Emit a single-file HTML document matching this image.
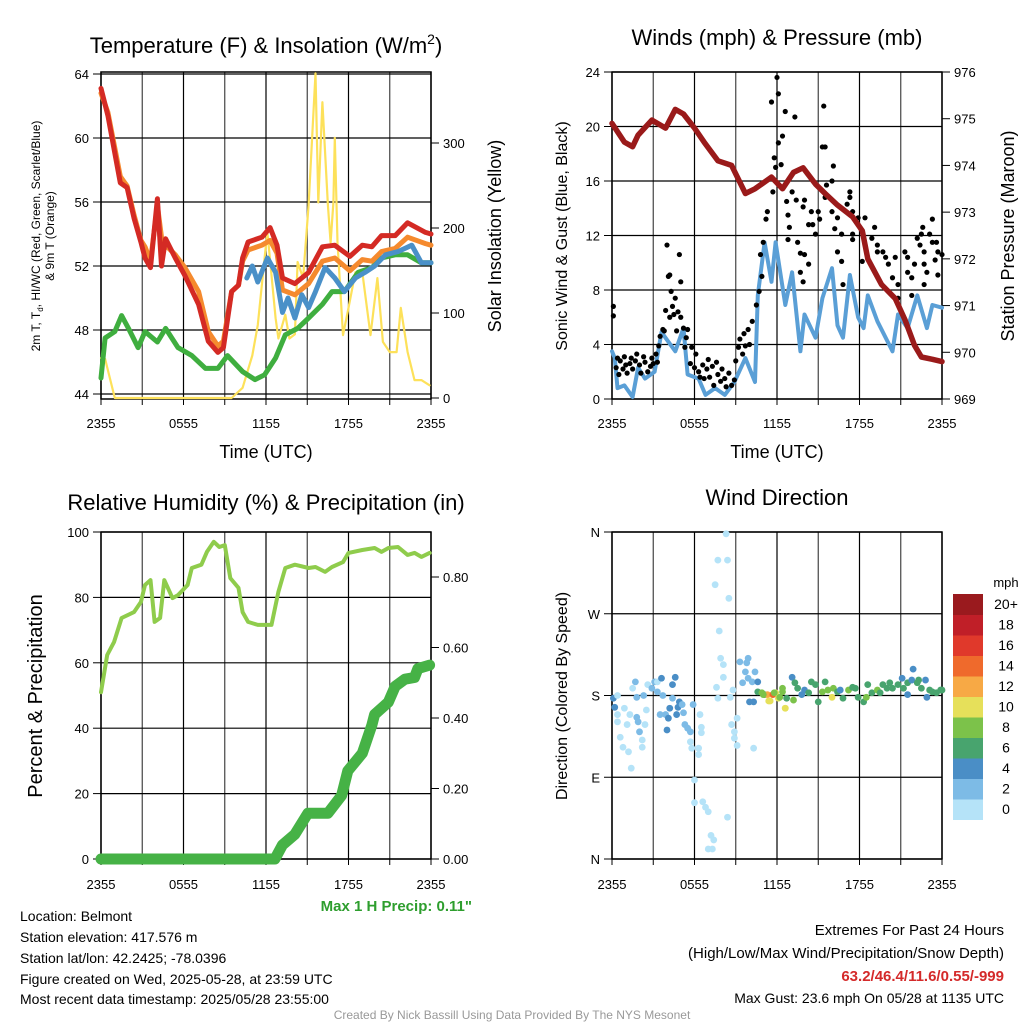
<!DOCTYPE html>
<html><head><meta charset="utf-8"><style>
body{margin:0;background:#fff}
svg{display:block;font-family:"Liberation Sans",Arial,sans-serif}
</style></head><body>
<svg id="fig" width="1024" height="1024" viewBox="0 0 1024 1024">
<rect x="0" y="0" width="1024" height="1024" fill="#fff"/>
<g id="p1"></g>
<g id="p2"></g>
<g id="p3"></g>
<g id="p4"></g>

<text x="266" y="53" font-size="22" text-anchor="middle">Temperature (F) &amp; Insolation (W/m<tspan font-size="14" dy="-9">2</tspan><tspan dy="9">)</tspan></text>
<text x="777" y="45" font-size="22" text-anchor="middle">Winds (mph) &amp; Pressure (mb)</text>
<text x="266" y="510" font-size="22" text-anchor="middle">Relative Humidity (%) &amp; Precipitation (in)</text>
<text x="777" y="505" font-size="22" text-anchor="middle">Wind Direction</text>

<text x="266" y="458" font-size="18" text-anchor="middle">Time (UTC)</text>
<text x="777" y="458" font-size="18" text-anchor="middle">Time (UTC)</text>

<text transform="translate(40,236) rotate(-90)" font-size="12" text-anchor="middle">2m T, T<tspan font-size="8" dy="3">d</tspan><tspan dy="-3">, HI/WC (Red, Green, Scarlet/Blue)</tspan></text>
<text transform="translate(54,236) rotate(-90)" font-size="12" text-anchor="middle">&amp; 9m T (Orange)</text>
<text transform="translate(501,236) rotate(-90)" font-size="18" text-anchor="middle">Solar Insolation (Yellow)</text>
<text transform="translate(567,236) rotate(-90)" font-size="16" text-anchor="middle">Sonic Wind &amp; Gust (Blue, Black)</text>
<text transform="translate(1014,236) rotate(-90)" font-size="18" text-anchor="middle">Station Pressure (Maroon)</text>
<text transform="translate(42,696) rotate(-90)" font-size="20" text-anchor="middle">Percent &amp; Precipitation</text>
<text transform="translate(567,696) rotate(-90)" font-size="16" text-anchor="middle">Direction (Colored By Speed)</text>

<text x="472" y="911" font-size="15" font-weight="bold" fill="#2e9e2e" text-anchor="end">Max 1 H Precip: 0.11"</text>

<g font-size="14">
<text x="20" y="921">Location: Belmont</text>
<text x="20" y="942">Station elevation: 417.576 m</text>
<text x="20" y="963">Station lat/lon: 42.2425; -78.0396</text>
<text x="20" y="984">Figure created on Wed, 2025-05-28, at 23:59 UTC</text>
<text x="20" y="1004">Most recent data timestamp: 2025/05/28 23:55:00</text>
</g>
<g font-size="15" text-anchor="end">
<text x="1004" y="935">Extremes For Past 24 Hours</text>
<text x="1004" y="958">(High/Low/Max Wind/Precipitation/Snow Depth)</text>
<text x="1004" y="981" fill="#d42a2a" font-weight="bold">63.2/46.4/11.6/0.55/-999</text>
<text x="1004" y="1003" font-size="14">Max Gust: 23.6 mph On 05/28 at 1135 UTC</text>
</g>
<text x="512" y="1019" font-size="12" fill="#999" text-anchor="middle">Created By Nick Bassill Using Data Provided By The NYS Mesonet</text>
</svg>
<script>
// ---------- DATA ----------
const timeTickLabels = ["2355","0555","1155","1755","2355"];
const tempTicks = [44,48,52,56,60,64];
const solarTicks = [0,100,200,300];
const windTicks = [0,4,8,12,16,20,24];
const pressTicks = [969,970,971,972,973,974,975,976];
const rhTicks = [0,20,40,60,80,100];
const precipTicks = [0,0.2,0.4,0.6,0.8];
const precipTickLabels = ["0.00","0.20","0.40","0.60","0.80"];
const dirTicks = [0,90,180,270,360];
const dirTickLabels = ["N","E","S","W","N"];
const speedBins = ["0","2","4","6","8","10","12","14","16","18","20+"];
const speedColors = ["#b5e3f8","#7dbbe6","#4a8ec6","#48a46e","#7cc24a","#e6e05a","#f7a945","#ef6a2c","#e0392b","#c01f28","#9a1a1e"];

const redT = [0,0.5,1.4,1.9,2.4,2.9,3.2,3.6,4.1,4.4,4.7,5.4,6.1,7.1,7.8,8.5,8.9,9.5,10.0,10.3,10.7,11.7,12.3,12.8,13.2,14.1,15.1,16.1,17.0,18.1,19.0,19.7,20.4,21.4,22.3,23.6,24];
const redV = [63.1,61.4,57.2,56.9,55.0,53.5,52.5,51.9,56.2,52.0,53.7,52.5,51.4,49.6,47.3,46.6,46.9,50.4,50.8,52.5,53.5,53.8,54.4,53.3,51.25,50.9,51.6,53.2,53.3,52.6,53.3,53.2,53.9,53.9,54.7,54.1,54.0];
const orangeV = [62.8,61.6,57.6,57.0,55.2,53.6,53.2,52.3,55.8,53.8,53.3,52.7,51.9,50.4,47.9,47.0,47.3,50.4,50.8,52.3,53.0,53.3,53.6,52.8,50.5,50.2,50.9,52.3,52.5,51.7,52.4,52.3,52.9,53.1,53.8,53.4,53.3];
const blueT = [10.6,11.0,11.4,12.1,12.7,13.2,13.6,14.1,14.6,15.1,15.6,16.3,17.0,17.7,18.5,19.2,19.9,20.7,21.6,22.6,23.3,24];
const blueV = [51.25,52.0,51.0,52.5,51.6,49.1,50.0,48.75,50.2,49.4,50.4,51.9,51.25,50.4,51.25,51.6,52.0,52.7,52.9,53.3,52.2,52.2];
const dewT = [0,0.3,1.0,1.5,2.0,2.7,3.2,4.1,4.7,5.6,6.6,7.6,8.5,9.2,10.3,11.2,11.9,12.7,13.4,14.3,15.1,16.1,16.8,17.7,18.7,19.7,20.4,21.4,22.3,23.3,24];
const dewV = [45.0,47.5,47.9,48.9,48.1,46.9,47.9,47.25,48.1,46.9,46.4,45.6,45.6,46.4,45.4,44.9,45.2,46.25,47.7,48.1,48.75,49.6,50.4,50.4,51.6,51.9,52.5,52.7,52.7,52.2,52.2];
const solarT = [0,0.3,1.0,9.5,10.3,11.0,11.4,11.9,12.1,12.7,12.9,13.4,13.7,14.1,14.3,14.7,15.1,15.6,15.8,16.1,16.5,16.7,16.9,17.0,17.2,17.6,18.0,18.5,19.0,19.6,20.1,20.5,21.0,21.5,21.8,22.3,22.8,23.3,23.9];
const solarV = [47,46,0,0,12,50,86,165,195,94,70,98,70,75,160,141,227,382,230,348,227,183,230,306,183,74,106,148,148,74,141,66,54,54,106,54,21,21,15];

const presT = [0,0.9,1.5,1.9,2.9,3.9,4.6,5.2,6.0,6.7,7.7,8.7,9.7,10.4,11.6,12.4,13.2,13.9,14.8,15.5,16.4,17.5,18.2,18.6,19.6,20.6,21.3,22.0,22.5,23.3,24];
const presV = [974.9,974.5,974.4,974.65,974.97,974.8,975.2,975.1,974.8,974.5,974.1,974.0,973.4,973.5,973.75,973.5,973.85,973.95,973.6,973.4,973.15,972.9,972.6,972.0,971.45,971.15,970.7,970.15,969.9,969.85,969.8];
const windT = [0,0.2,0.4,0.9,1.5,1.9,2.4,3.1,3.6,4.1,4.6,5.2,5.5,6.3,6.8,7.5,8.2,8.9,9.7,10.4,10.6,11.1,11.6,11.9,12.6,13.1,13.7,14.0,14.8,15.3,16.0,16.4,16.8,17.3,17.9,18.3,18.6,19.3,20.4,20.8,21.5,22.2,22.9,23.3,24];
const windV = [3.5,3.0,0.8,1.0,0.15,2.3,1.5,2.0,4.9,4.2,3.5,5.2,1.8,1.5,0.3,0.8,0.3,1.25,3.0,1.25,7.6,11.5,8.6,11.5,6.9,9.3,3.5,6.2,4.5,7.4,9.6,5.4,4.5,9.1,6.0,5.2,7.6,5.7,3.5,6.2,5.2,7.6,5.2,6.9,6.7];
const gustT = [0.1,0.1,0.3,0.4,0.5,0.6,0.8,0.9,1.0,1.1,1.3,1.4,1.5,1.7,1.8,2.0,2.1,2.3,2.4,2.6,2.8,2.9,3.0,3.2,3.3,3.4,3.5,3.7,3.8,3.9,4.0,4.1,4.2,4.2,4.3,4.4,4.5,4.6,4.7,4.8,4.9,5.0,5.0,5.2,5.3,5.4,5.5,5.7,5.8,6.0,6.1,6.3,6.4,6.6,6.7,6.9,7.0,7.1,7.3,7.4,7.6,7.7,7.9,8.0,8.2,8.3,8.5,8.7,8.9,9.0,9.2,9.3,9.5,9.6,9.7,9.9,10.0,10.2,10.5,10.7,10.8,10.9,11.0,11.2,11.3,11.6,11.7,11.9,11.8,12.1,12.0,12.3,12.1,12.4,12.6,13.1,12.7,12.8,12.9,12.8,13.3,13.4,13.5,13.7,13.9,14.0,14.0,14.3,13.7,13.9,14.5,14.6,14.8,15.0,15.3,15.4,15.5,15.5,15.6,16.0,16.1,16.0,16.4,16.7,16.4,16.7,16.8,17.1,17.3,17.3,17.5,17.5,17.5,17.9,18.4,18.2,18.4,18.9,19.1,19.3,19.3,19.7,19.9,20.1,20.4,20.6,20.8,20.8,21.3,21.5,21.5,21.8,21.8,22.0,22.2,22.4,22.5,22.6,22.7,22.9,22.7,23.1,23.3,23.3,23.5,23.6,23.7,23.7,24.0,22.7,14.3,15.1,16.2];
const gustV = [6.8,6.1,2.3,3.0,1.8,2.8,2.2,3.1,2.5,1.9,2.6,3.0,2.2,2.8,3.3,2.5,1.9,3.1,2.7,2.0,2.4,3.0,2.6,3.3,2.7,3.9,4.6,5.1,5.0,6.5,11.3,9.0,9.1,6.0,7.9,6.8,6.2,7.4,5.0,6.4,10.6,8.6,6.0,5.2,3.8,4.5,5.1,2.6,3.8,2.3,3.3,2.0,1.6,2.5,1.5,2.2,2.9,1.6,2.4,1.0,2.7,1.8,1.3,2.2,1.5,0.9,1.9,1.0,1.4,2.8,3.8,4.4,3.3,4.8,3.9,5.1,4.0,5.7,6.9,7.9,10.6,9.0,11.5,13.2,13.75,21.8,15.2,17.0,17.7,22.4,23.6,17.2,18.8,19.3,21.1,15.2,14.5,13.5,12.6,11.7,20.7,14.6,11.5,10.7,14.1,14.6,10.6,9.9,9.3,8.6,13.75,12.8,12.1,13.75,18.5,21.5,18.5,14.8,15.7,16.0,17.1,13.75,13.3,12.1,10.8,10.1,8.4,14.3,14.8,15.2,13.75,12.1,11.7,13.3,13.3,10.1,11.3,11.8,12.6,11.3,10.8,10.8,10.4,9.9,8.9,10.4,8.4,7.4,10.8,10.4,9.3,8.9,7.6,9.9,11.8,11.3,12.1,12.6,10.8,9.3,8.4,12.1,11.5,13.2,10.2,11.5,10.8,9.1,10.6,9.9,12.8,13.2,12.5];

const rhT = [0,0.45,0.95,1.5,2.4,2.9,3.2,3.6,3.9,4.3,4.6,5.2,5.6,6.3,6.6,7.3,7.7,8.2,8.6,9.0,9.4,10.0,10.3,10.7,11.4,12.4,12.9,13.4,14.1,15.1,15.6,16.3,16.8,17.6,18.0,19.0,19.9,20.4,20.9,21.6,22.3,22.8,23.3,23.9];
const rhV = [51,62.4,66.4,73.7,75.5,78.6,83.8,85.3,72.5,73.7,85.3,79.8,80.7,83.8,89,90,93.9,97,95.4,96,85.9,82.9,75.5,72.5,71.6,71.6,81.7,89,90,89,89.3,87.8,89.3,90.8,93.6,94.5,95.1,93.9,95.1,95.4,93,93.6,92.4,93.6];
const precipT = [0,12.65,13.2,14.1,15.05,16.5,17.5,17.95,19.0,19.7,19.9,20.9,21.4,22.1,22.8,23.05,23.9];
const precipV = [0,0,0.04,0.07,0.13,0.13,0.18,0.25,0.30,0.38,0.41,0.445,0.49,0.51,0.515,0.54,0.55];

const dirT = [0.1,0.2,0.4,0.4,0.4,0.6,0.8,0.9,1.1,1.2,1.3,1.4,1.5,1.7,1.8,1.8,1.9,2.0,2.2,2.2,2.4,2.5,2.3,2.6,2.9,3.1,3.3,3.3,3.6,3.7,3.5,3.9,4.0,4.1,4.2,4.4,4.4,4.6,4.7,4.8,4.9,5.1,5.2,5.3,5.5,5.7,5.7,5.8,5.9,6.0,6.0,6.3,6.3,6.4,6.5,6.5,6.6,6.8,7.0,7.2,7.0,7.3,7.4,7.5,7.6,7.7,7.7,7.8,7.9,8.1,8.1,8.3,8.4,8.4,8.5,8.6,8.7,8.8,8.9,8.9,9.1,9.1,9.3,9.5,9.7,9.8,9.9,9.9,10.2,10.4,10.3,10.0,10.6,10.3,10.6,10.9,11.1,11.3,11.5,11.7,11.9,12.1,12.4,12.4,12.6,12.7,13.1,13.2,13.3,13.5,13.8,14.0,14.3,14.5,14.8,15.0,15.3,15.5,15.7,16.0,16.1,16.4,16.6,16.8,17.2,17.5,17.7,17.9,18.3,18.5,18.6,18.9,19.3,19.5,19.7,20.0,20.2,20.4,20.8,21.1,21.2,21.5,21.5,21.8,21.9,22.2,22.3,22.5,22.8,22.9,23.1,23.3,23.6,23.9,24,11.4,12.6,11.0,11.8,12.2];
const dirV = [177,167,180,159,151,134,123,166,148,118,159,100,188,195,178,156,151,140,131,123,148,164,180,192,188,195,184,195,199,180,159,159,142,155,166,177,192,200,159,167,173,170,161,148,144,129,140,122,170,87,62,115,122,159,145,139,63,57,52,26,11,11,21,302,189,177,329,251,221,214,200,358,46,329,287,178,148,186,133,140,155,125,217,194,206,216,221,199,195,206,173,173,195,122,184,183,181,181,174,181,183,177,188,184,166,177,200,175,194,188,181,186,183,195,192,173,184,195,186,178,188,184,186,177,186,189,188,178,173,178,192,183,186,183,192,188,194,188,192,199,188,194,181,197,209,194,197,188,197,178,186,184,183,186,186,174,166,181,183,178];
const dirS = [4,4,1,0,1,0,0,0,0,0,0,0,1,2,2,3,2,3,0,0,1,0,2,0,2,2,2,1,4,2,3,3,4,4,4,3,4,4,4,4,4,3,3,3,2,0,2,0,3,0,0,0,0,0,0,0,0,0,0,0,0,0,0,0,0,0,0,0,1,0,0,0,0,0,0,0,0,0,0,0,0,0,3,2,2,2,2,2,2,2,4,4,4,0,6,8,7,12,10,14,11,10,8,8,10,6,4,8,6,6,4,4,6,6,6,6,8,6,8,10,8,6,4,6,8,6,6,6,6,8,6,6,8,6,6,6,6,6,6,4,6,6,4,4,4,6,6,6,4,4,6,6,6,6,6,10,10,8,8,8];

// ---------- HELPERS ----------
const NS = "http://www.w3.org/2000/svg";
function mk(tag, attrs, parent) {
  const el = document.createElementNS(NS, tag);
  for (const k in attrs) el.setAttribute(k, attrs[k]);
  parent.appendChild(el);
  return el;
}
function lin(d0, d1, r0, r1) { return v => r0 + (v - d0) * (r1 - r0) / (d1 - d0); }
function pathD(ts, vs, xf, yf) {
  return ts.map((t, i) => (i ? "L" : "M") + xf(t).toFixed(1) + "," + yf(vs[i]).toFixed(1)).join("");
}
function speedColor(s) { return speedColors[Math.min(10, Math.floor(s / 2))]; }

function frame(g, X0, X1, Y0, Y1, xf, xOff, yfL, lTicks, lLabels, yfR, rTicks, rLabels) {
  for (let h = 0; h <= 24; h += 3) {
    const gl = mk("line", {x1: xf(h), x2: xf(h), y1: Y0, y2: Y1, stroke: (h % 6 === 0) ? "#000" : "#444", "stroke-width": 1.2}, g);
    
    
    mk("line", {x1: xf(h), x2: xf(h), y1: Y1, y2: Y1 + 6, stroke: "#000"}, g);
  }
  lTicks.forEach((v, i) => {
    const y = yfL(v);
    const hl = mk("line", {x1: X0, x2: X1, y1: y, y2: y, stroke: "#000", "stroke-width": 1.2}, g);
    
    
    mk("line", {x1: X0 - 8, x2: X0, y1: y, y2: y, stroke: "#000"}, g);
    const t = mk("text", {x: X0 - 12, y: y + 5, "font-size": 13, "text-anchor": "end"}, g);
    t.textContent = lLabels[i];
    
    
  });
  if (yfR) {
    rTicks.forEach((v, i) => {
      const y = yfR(v);
      mk("line", {x1: X1, x2: X1 + 8, y1: y, y2: y, stroke: "#000"}, g);
      const t = mk("text", {x: X1 + 12, y: y + 5, "font-size": 13}, g);
      t.textContent = rLabels[i];
      
      
    });
  }
  timeTickLabels.forEach((lab, i) => {
    const x = xf(i * 6);
    const t = mk("text", {x: x, y: Y1 + xOff, "font-size": 13, "text-anchor": "middle"}, g);
    t.textContent = lab;
    
    
  });
  const b = mk("rect", {x: X0, y: Y0, width: X1 - X0, height: Y1 - Y0, fill: "none", stroke: "#000", "stroke-width": 1.5}, g);
  
  
}
function series(g, ts, vs, xf, yf, color, w, name) {
  const p = mk("path", {d: pathD(ts, vs, xf, yf), fill: "none", stroke: color, "stroke-width": w, "stroke-linejoin": "round", "stroke-linecap": "round"}, g);
  
  
  return p;
}

// ---------- PANEL 1 ----------
{
  const g = document.getElementById("p1");
  const xf = lin(0, 24, 101, 431);
  const yf = lin(44, 64, 394, 74);
  const yr = lin(0, 300, 398, 143);
  frame(g, 101, 431, 72, 399, xf, 29, yf, tempTicks, tempTicks.map(String), yr, solarTicks, solarTicks.map(String));
  series(g, solarT, solarV, xf, yr, "#fde15a", 2.2, "solar-insolation-line");
  series(g, dewT, dewV, xf, yf, "#3fae3f", 5, "dewpoint-line");
  series(g, redT, orangeV, xf, yf, "#f58a2e", 5, "9m-temperature-line");
  series(g, blueT, blueV, xf, yf, "#4a90c8", 5, "heat-index-wind-chill-line");
  series(g, redT, redV, xf, yf, "#d42a24", 5, "2m-temperature-line");
}
// ---------- PANEL 2 ----------
{
  const g = document.getElementById("p2");
  const xf = lin(0, 24, 612, 942);
  const yf = lin(0, 24, 399, 72);
  const yr = lin(969, 976, 399, 72);
  frame(g, 612, 942, 72, 399, xf, 29, yf, windTicks, windTicks.map(String), yr, pressTicks, pressTicks.map(String));
  series(g, windT, windV, xf, yf, "#5a9fd6", 4, "sonic-wind-line");
  gustT.forEach((t, i) => {
    const c = mk("circle", {cx: xf(t), cy: yf(gustV[i]), r: 2.6, fill: "#000"}, g);
    
    
  });
  series(g, presT, presV, xf, yr, "#9a1a1a", 5.5, "pressure-line");
}
// ---------- PANEL 3 ----------
{
  const g = document.getElementById("p3");
  const xf = lin(0, 24, 101, 431);
  const yf = lin(0, 100, 859, 532);
  const yr = lin(0, 0.8, 859, 577);
  frame(g, 101, 431, 532, 859, xf, 30, yf, rhTicks, rhTicks.map(String), yr, precipTicks, precipTickLabels);
  series(g, rhT, rhV, xf, yf, "#8fcc4c", 4, "relative-humidity-line");
  series(g, precipT, precipV, xf, yr, "#46b246", 11, "precipitation-line");
}
// ---------- PANEL 4 ----------
{
  const g = document.getElementById("p4");
  const xf = lin(0, 24, 612, 942);
  const yf = lin(0, 360, 859, 532);
  frame(g, 612, 942, 532, 859, xf, 30, yf, dirTicks, dirTickLabels, null, [], []);
  dirT.forEach((t, i) => {
    const c = mk("circle", {cx: xf(t), cy: yf(dirV[i]), r: 3.4, fill: speedColor(dirS[i])}, g);
    
    
  });
  const cb = mk("g", {}, g);
  
  
  const top = 594, bh = 20.5;
  const unit = mk("text", {x: 1006, y: 587, "font-size": 13, "text-anchor": "middle"}, cb);
  unit.textContent = "mph";
  
  
  speedBins.forEach((lab, i) => {
    const j = speedBins.length - 1 - i;
    const r = mk("rect", {x: 953, y: top + j * bh, width: 30, height: bh + 0.5, fill: speedColors[i]}, cb);
    
    
    const t = mk("text", {x: 1006, y: top + j * bh + 15, "font-size": 14, "text-anchor": "middle"}, cb);
    t.textContent = lab;
    
    
  });
}
</script>
</body></html>
